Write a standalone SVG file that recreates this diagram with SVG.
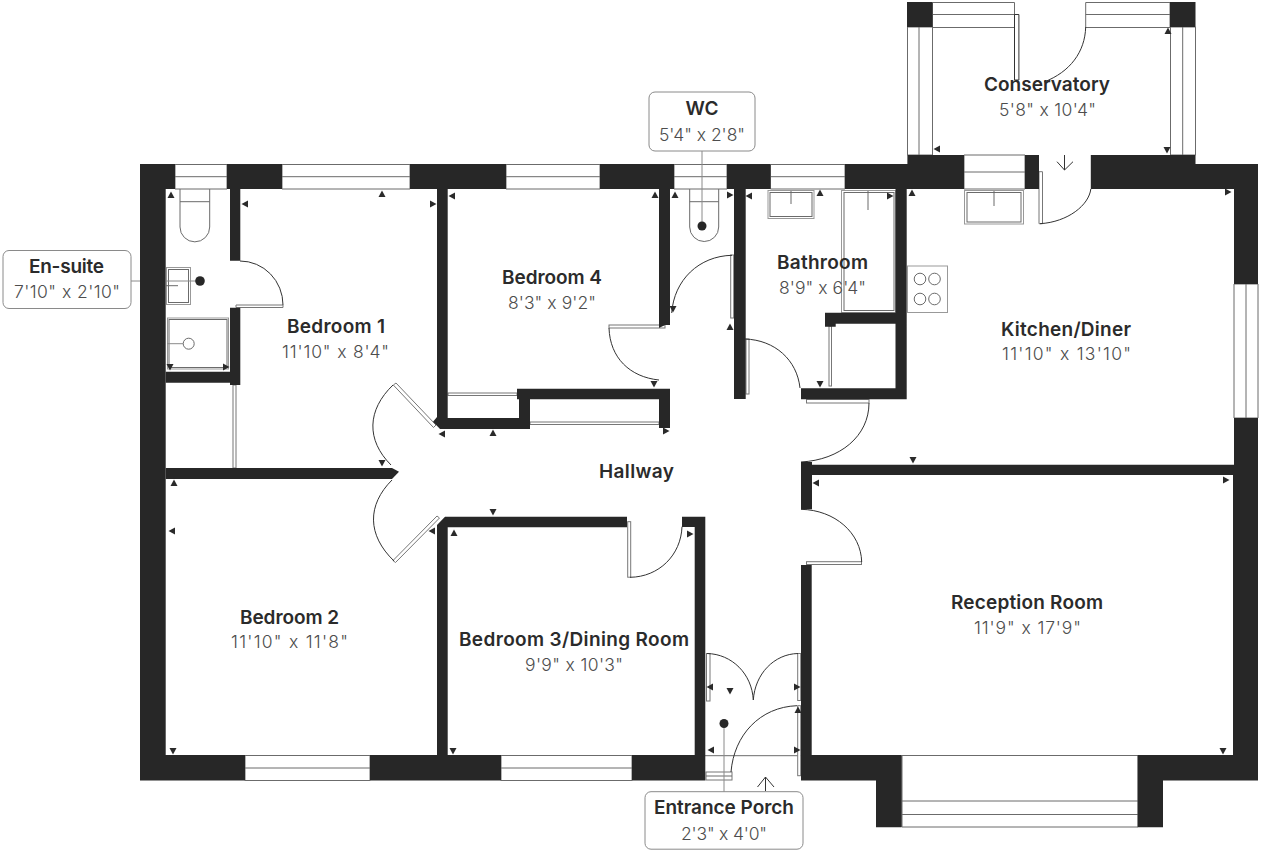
<svg xmlns="http://www.w3.org/2000/svg" width="1264" height="856" viewBox="0 0 1264 856">
<style>
.w{fill:#272727}
.g{fill:#fff;stroke:#6b6b6b;stroke-width:1}
.l{fill:none;stroke:#6b6b6b;stroke-width:1}
.a{fill:none;stroke:#333;stroke-width:1}
.f{fill:#fff;stroke:#777;stroke-width:1}
.s{fill:#fff;stroke:#999;stroke-width:1}
.lead{stroke:#8a8a8a;stroke-width:1;fill:none}
.box{fill:#fff;stroke:#8a8a8a;stroke-width:1}
.t{font-family:"Inter","Liberation Sans",sans-serif;font-size:19px;font-weight:600;fill:#2b2b2b;text-anchor:middle}
.d{font-family:"Inter","Liberation Sans",sans-serif;font-size:17.5px;font-weight:300;fill:#4d4d4d;text-anchor:middle}
.k{fill:#2a2a2a}
</style>
<defs>
<path id="td" class="k" d="M-3.500-3H3.500L0 3.500Z"/>
<path id="tu" class="k" d="M-3.500 3H3.500L0-3.500Z"/>
<path id="tl" class="k" d="M3-3.500V3.500L-3.500 0Z"/>
<path id="tr" class="k" d="M-3-3.500V3.500L3.500 0Z"/>
</defs>
<rect width="1264" height="856" fill="#fff"/>

<g id="fixtures">
<path class="l" d="M180 189V227A14.800 14.800 0 0 0 209.700 227V189M180 201.700H209.700"/>
<path class="l" d="M689.700 189V227A14.500 14.500 0 0 0 718.700 227V189M689.700 201.700H718.700"/>
<rect class="s" x="166.500" y="267.500" width="24" height="37"/><rect class="l" x="168.500" y="269.500" width="20" height="33"/>
<path class="l" d="M166 285.700H178"/>
<rect class="s" x="167.500" y="318" width="61" height="51"/><rect class="l" x="169" y="319.500" width="58" height="48"/>
<circle class="l" cx="188.700" cy="343.700" r="5.500"/><path class="lead" d="M167 343.700H183"/>
<rect class="s" x="768" y="190.500" width="46" height="28"/><rect class="l" x="770" y="192.500" width="42" height="24"/><path class="l" d="M791 191V204"/>
<rect class="s" x="841.500" y="190.500" width="54" height="122"/><rect class="l" x="844" y="192.500" width="50" height="118"/><path class="l" d="M868 191V210"/>
<rect class="s" x="964.500" y="190.500" width="59" height="33.500"/><rect class="l" x="967" y="192.500" width="54" height="29.500"/><path class="l" d="M994 191V206"/>
<rect class="s" x="907.500" y="266" width="40" height="46.500"/>
<circle class="l" cx="920" cy="279" r="5.800"/><circle class="l" cx="934.500" cy="279" r="5.800"/><circle class="l" cx="920" cy="299" r="5.800"/><circle class="l" cx="934.500" cy="299" r="5.800"/>
</g>

<g id="openings">
<path class="g" d="M175 164.500H227V189H175Z M175 176.700H227"/>
<path class="g" d="M282 164.500H410V189H282Z M282 176.700H410"/>
<path class="g" d="M506 164.500H600V189H506Z M506 176.700H600"/>
<path class="g" d="M674 164.500H727V189H674Z M674 176.700H727"/>
<path class="g" d="M770.500 164.500H845V189H770.500Z M770.500 176.700H845"/>
<path class="g" d="M964 155H1025V189H964Z M964 172H1025"/>
<path class="g" d="M932.500 2.500H1014.500V27.500H932.500Z M932.500 14.500H1014.500"/>
<path class="g" d="M1085.700 2.500H1170V27.500H1085.700Z M1085.700 14.500H1170"/>
<path class="g" d="M907.500 27H932.500V155H907.500Z M919 27V155"/>
<path class="g" d="M1170.500 27H1195.500V155H1170.500Z"/><path class="l" stroke="#aaa" d="M1182.700 27V155"/>
<path class="g" d="M1234 284H1258V418H1234Z"/><path class="l" d="M1246 284V418"/>
<path class="g" d="M245 755.500H370V780.500H245Z M245 768H370"/>
<path class="g" d="M501 755.500H632V780.500H501Z M501 768H632"/>
<path class="g" d="M902 755.500H1138V827H902Z M902 801H1138 M902 814.500H1138"/>
<path class="l" d="M705 755.700H801"/>
<rect class="f" x="233" y="385" width="3" height="83"/>
<rect class="f" x="448" y="393" width="69" height="2.500"/>
<rect class="f" x="530" y="422" width="129" height="2.500"/>
<rect class="f" x="829" y="326" width="2.500" height="60"/>
<path class="f" d="M236 305H283V307.500H236Z"/>
<path class="a" d="M240 261A43 44 0 0 1 283 305"/>
<path class="f" d="M393.300 385L396 383L436 425L433.500 427.500Z"/>
<path class="a" d="M393 385C367 410 366 440 391 465"/>
<path class="f" d="M395.500 562.500L393 560.500L437 516L439.500 518Z"/>
<path class="a" d="M392 480C367 505 367 535 394 561"/>
<rect class="f" x="609" y="325" width="56" height="3"/>
<path class="a" d="M609 328C610 358 630 377 659 380"/>
<rect class="f" x="730.700" y="255" width="3" height="63"/>
<path class="a" d="M732 255.300C699 256 674 280 671.700 313"/>
<rect class="f" x="746" y="339" width="3" height="55"/>
<path class="a" d="M745 339C775 340 797 360 800 388"/>
<rect class="f" x="806.500" y="399.500" width="62.500" height="3.500"/>
<path class="a" d="M869 403C869 436 840 460 801 462"/>
<rect class="f" x="806.500" y="561.700" width="55" height="2.800"/>
<path class="a" d="M801 509.300C835 510 861 533 861.700 562"/>
<rect class="f" x="627.700" y="521.700" width="3" height="55.500"/>
<path class="a" d="M630 577.300C659 577 681 555 682 526.700"/>
<rect class="f" x="706.500" y="653.500" width="3.500" height="47.500"/>
<path class="a" d="M707 653.500C732 654 752 674 753.300 700"/>
<rect class="f" x="797.700" y="653.500" width="3" height="47"/>
<path class="a" d="M798 653.500C774 654 755 674 753.300 700"/>
<rect class="f" x="706" y="772" width="26" height="8"/><path class="l" d="M706 776H732"/>
<rect class="f" x="797.700" y="705.700" width="3" height="70"/>
<path class="a" d="M731 772C734 735 760 707 797 705.700"/>
<path class="f" d="M1039 171.700H1042.500V223.700H1039Z"/>
<path class="a" d="M1040 223.700C1068 222 1089 205 1090.800 189"/>
<path class="a" d="M1014.500 14.500H1018.900V80H1014.500Z"/>
<path class="a" d="M1085.700 27C1085 52 1070 72 1044 82"/>
<path class="a" d="M1064.500 155V170M1057 161.700L1064.500 170L1073 161.700"/>
<path class="a" d="M765.500 791V777M757.500 787L765.500 777L774 787"/>
</g>

<g id="walls" class="w">
<path d="M140 164H175V189H165.700V755H245V780.500H140Z"/>
<path d="M227 164H282V189H240.300V260.700H230V189H227Z"/>
<path d="M410 164H506V189H410Z"/>
<path d="M600 164H674V189H600Z"/>
<path d="M437 189H447.700V418H519V399.300H517V388.700H670V428H659V399.300H530V429H440L433 421.700L437 417Z"/>
<path d="M659 189H670V325H665L659 328Z"/>
<path d="M727 164H770.500V189H745.700V399H734V189H727Z"/>
<path d="M845 164H907.400V155H964V189H906.700V399.300H801V388.300H895.500V323.700H835.700V326.700H825V312.700H895.500V189H845Z"/>
<path d="M1025 155H1039V189H1025Z"/>
<path d="M1090.800 155H1195.500V164H1258V284H1234V189H1090.800Z"/>
<path d="M1234 418H1258V780.500H1163V827.300H1137.700V755H1233V475H812V509.300H801V462H812V464.700H1234Z"/>
<path d="M801 565H811.700V755H901.700V827.300H876V780.500H801Z"/>
<path d="M230 307.700H240.300V385H230V382.700H165.700V371.700H230Z"/>
<path d="M165.700 468H392L399 471.700L392 479H165.700Z"/>
<path d="M437 525L445 516.700H627V527.300H447.700V755H501V780.500H370V755H437Z"/>
<path d="M682 516.700H705.300V780.500H632V755H694.700V527H682Z"/>
<path d="M907 27H932.500V2H907ZM1170 27H1195.500V2H1170Z"/>
</g>

<g id="ticks">
<use href="#tu" x="171" y="195"/><use href="#tu" x="382" y="194"/><use href="#tl" x="245" y="204"/><use href="#tr" x="433" y="204"/>
<use href="#tu" x="174" y="483"/><use href="#tl" x="172" y="531"/><use href="#td" x="173" y="751"/><use href="#td" x="453" y="751"/>
<use href="#td" x="170" y="367"/><use href="#tr" x="226" y="367"/><use href="#tl" x="442" y="434"/><use href="#td" x="382" y="463"/>
<use href="#tl" x="452" y="196"/><use href="#tu" x="655" y="195"/><use href="#tu" x="675" y="195"/><use href="#tr" x="730" y="195"/>
<use href="#td" x="673" y="309"/><use href="#tu" x="730" y="327"/><use href="#td" x="654" y="384"/><use href="#tu" x="493" y="433"/><use href="#tr" x="666" y="431"/>
<use href="#td" x="493" y="512"/><use href="#tu" x="454" y="533"/><use href="#tl" x="432" y="531"/><use href="#tr" x="690" y="534"/>
<use href="#tl" x="710" y="687"/><use href="#td" x="730" y="691"/><use href="#tr" x="797" y="687"/><use href="#tu" x="798" y="710"/><use href="#tl" x="711" y="750"/><use href="#tr" x="797" y="750"/>
<use href="#tl" x="749" y="196"/><use href="#tu" x="820" y="193"/><use href="#tr" x="890" y="196"/><use href="#td" x="820" y="384"/><use href="#tu" x="912" y="193"/>
<use href="#tu" x="1168" y="31"/><use href="#tl" x="937" y="149"/><use href="#td" x="1167" y="150"/><use href="#tr" x="1228" y="192"/>
<use href="#td" x="913" y="460"/><use href="#tl" x="816" y="483"/><use href="#tr" x="1226" y="480"/><use href="#td" x="1223" y="751"/>
</g>

<g id="connectors">
<path class="lead" d="M702 151V226"/>
<path class="lead" d="M131 281H140M166 281H200"/>
<path class="lead" d="M724 723V792"/>
<circle cx="702" cy="226" r="4.500" fill="#272727"/>
<circle cx="200" cy="281" r="4.800" fill="#272727"/>
<circle cx="724" cy="723.500" r="4.500" fill="#272727"/>
</g>

<g id="wc"><rect class="box" x="649" y="92" width="106" height="59" rx="6"/><text class="t" x="702" y="115" textLength="33">WC</text><text class="d" x="702" y="141" textLength="86">5'4" x 2'8"</text></g>
<g id="en-suite"><rect class="box" x="3" y="250.500" width="128" height="58" rx="6"/><text class="t" x="66.500" y="273" textLength="75">En-suite</text><text class="d" x="67" y="298" textLength="106">7'10" x 2'10"</text></g>
<g id="entrance-porch"><rect class="box" x="645" y="791.700" width="158" height="57.500" rx="6"/><text class="t" x="724" y="814" textLength="140">Entrance Porch</text><text class="d" x="724" y="840" textLength="86">2'3" x 4'0"</text></g>
<g id="conservatory"><text class="t" x="1047" y="91" textLength="126">Conservatory</text><text class="d" x="1047.500" y="116" textLength="97">5'8" x 10'4"</text></g>
<g id="bedroom-1"><text class="t" x="336" y="332.500" textLength="98">Bedroom 1</text><text class="d" x="335.500" y="358" textLength="107">11'10" x 8'4"</text></g>
<g id="bedroom-4"><text class="t" x="552" y="284" textLength="100">Bedroom 4</text><text class="d" x="552" y="309" textLength="88">8'3" x 9'2"</text></g>
<g id="bathroom"><text class="t" x="822.500" y="269" textLength="91">Bathroom</text><text class="d" x="822.500" y="294" textLength="87">8'9" x 6'4"</text></g>
<g id="kitchen"><text class="t" x="1066" y="336" textLength="130">Kitchen/Diner</text><text class="d" x="1066.500" y="360" textLength="129">11'10" x 13'10"</text></g>
<g id="hallway"><text class="t" x="636.500" y="477.500" textLength="75">Hallway</text></g>
<g id="reception"><text class="t" x="1027" y="609" textLength="152">Reception Room</text><text class="d" x="1027.500" y="634" textLength="107">11'9" x 17'9"</text></g>
<g id="bedroom-2"><text class="t" x="289.500" y="624" textLength="99">Bedroom 2</text><text class="d" x="289.500" y="648" textLength="117">11'10" x 11'8"</text></g>
<g id="bedroom-3"><text class="t" x="574" y="645.500" textLength="230">Bedroom 3/Dining Room</text><text class="d" x="574" y="671" textLength="98">9'9" x 10'3"</text></g>
</svg>
